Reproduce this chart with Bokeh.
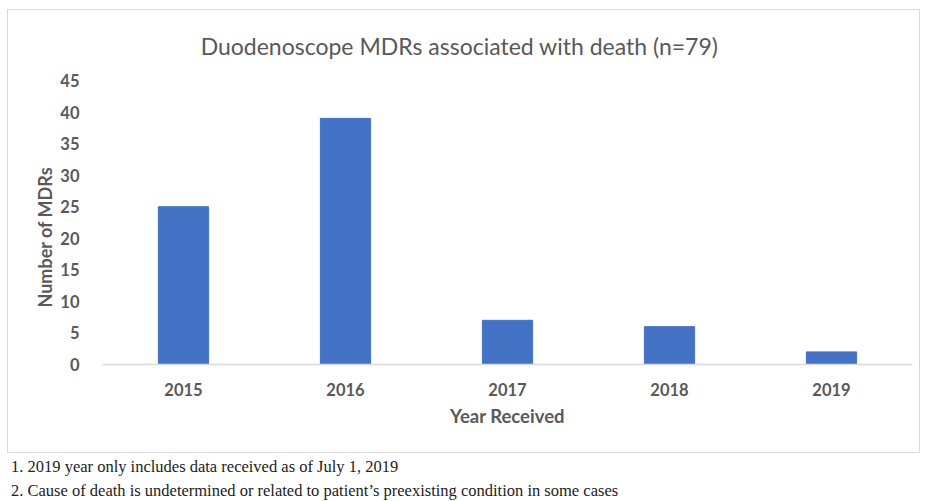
from bokeh.plotting import figure
from bokeh.models import Range1d, FixedTicker, Label, Title, Div
from bokeh.layouts import column
from bokeh.embed import file_html
from bokeh.resources import INLINE

years = ["2015", "2016", "2017", "2018", "2019"]
counts = [25, 39, 7, 6, 2]
y_ticks = [0, 5, 10, 15, 20, 25, 30, 35, 40, 45]
y_label = "Number of MDRs"
x_label = "Year Received"
title_text = "Duodenoscope MDRs associated with death (n=79)"
footnotes = [
    "1. 2019 year only includes data received as of July 1, 2019",
    "2. Cause of death is undetermined or related to patient\u2019s preexisting condition in some cases",
]

TXT = "#595959"
CW, CH = 913, 444          # chart canvas (inside its border)
FL, FR, FT, FB = 94, 904, 70, 354   # tick 45 at FT, 0 at FB (canvas px)
px_per_unit = (FB - FT) / 45.0
y_top = FB / px_per_unit    # frame reaches up to the chart top so the title can sit inside it

p = figure(width=CW, height=CH, x_range=years, y_range=Range1d(0, y_top),
           output_backend="svg", toolbar_location=None,
           min_border_left=FL, min_border_right=CW - FR,
           min_border_top=0, min_border_bottom=CH - FB,
           styles={"border": "1px solid #d9d9d9"}, margin=(9, 0, 0, 7))
p.outline_line_color = None
p.xgrid.grid_line_color = None
p.ygrid.grid_line_color = None
p.x_range.range_padding = 0

p.vbar(x=years, top=counts, width=0.31, color="#4472C4")

p.yaxis.ticker = FixedTicker(ticks=y_ticks)
p.yaxis.axis_line_color = None
p.yaxis.major_tick_line_color = None
p.yaxis.minor_tick_line_color = None
p.yaxis.major_label_standoff = 17
p.yaxis.major_label_text_font = "Lato"
p.yaxis.major_label_text_font_style = "bold"
p.yaxis.major_label_text_font_size = "16.5px"
p.yaxis.major_label_text_color = TXT

p.add_layout(Title(text=y_label, align="left", offset=57, standoff=4,
                   text_font="Lato", text_font_style="bold",
                   text_font_size="18px", text_color=TXT), "left")

p.xaxis.axis_line_color = "#d9d9d9"
p.xaxis.axis_line_width = 1.5
p.xaxis.major_tick_line_color = None
p.xaxis.minor_tick_line_color = None
p.xaxis.major_label_standoff = 12
p.xaxis.major_label_text_font = "Lato"
p.xaxis.major_label_text_font_style = "bold"
p.xaxis.major_label_text_font_size = "16.5px"
p.xaxis.major_label_text_color = TXT
p.xaxis.axis_label = x_label
p.xaxis.axis_label_text_font = "Lato"
p.xaxis.axis_label_text_font_style = "bold"
p.xaxis.axis_label_text_font_size = "18.5px"
p.xaxis.axis_label_text_color = TXT
p.xaxis.axis_label_standoff = 6

p.add_layout(Label(x=451 - FL, y=FB - 35, x_units="screen", y_units="screen",
                   text=title_text, text_align="center", text_baseline="middle",
                   text_font="Lato", text_font_size="23px", text_color=TXT))

notes_html = "<br>".join(footnotes)
notes = Div(text=notes_html, width=927, height=48, margin=0,
            styles={"font-family": "'Liberation Serif', serif", "font-size": "16.5px",
                    "line-height": "24px", "color": "#222222",
                    "padding-top": "2px", "padding-left": "11px",
                    "white-space": "nowrap", "box-sizing": "border-box"})

layout = column(p, notes, spacing=0, margin=0)
open("out.html", "w").write(file_html(layout, INLINE))
